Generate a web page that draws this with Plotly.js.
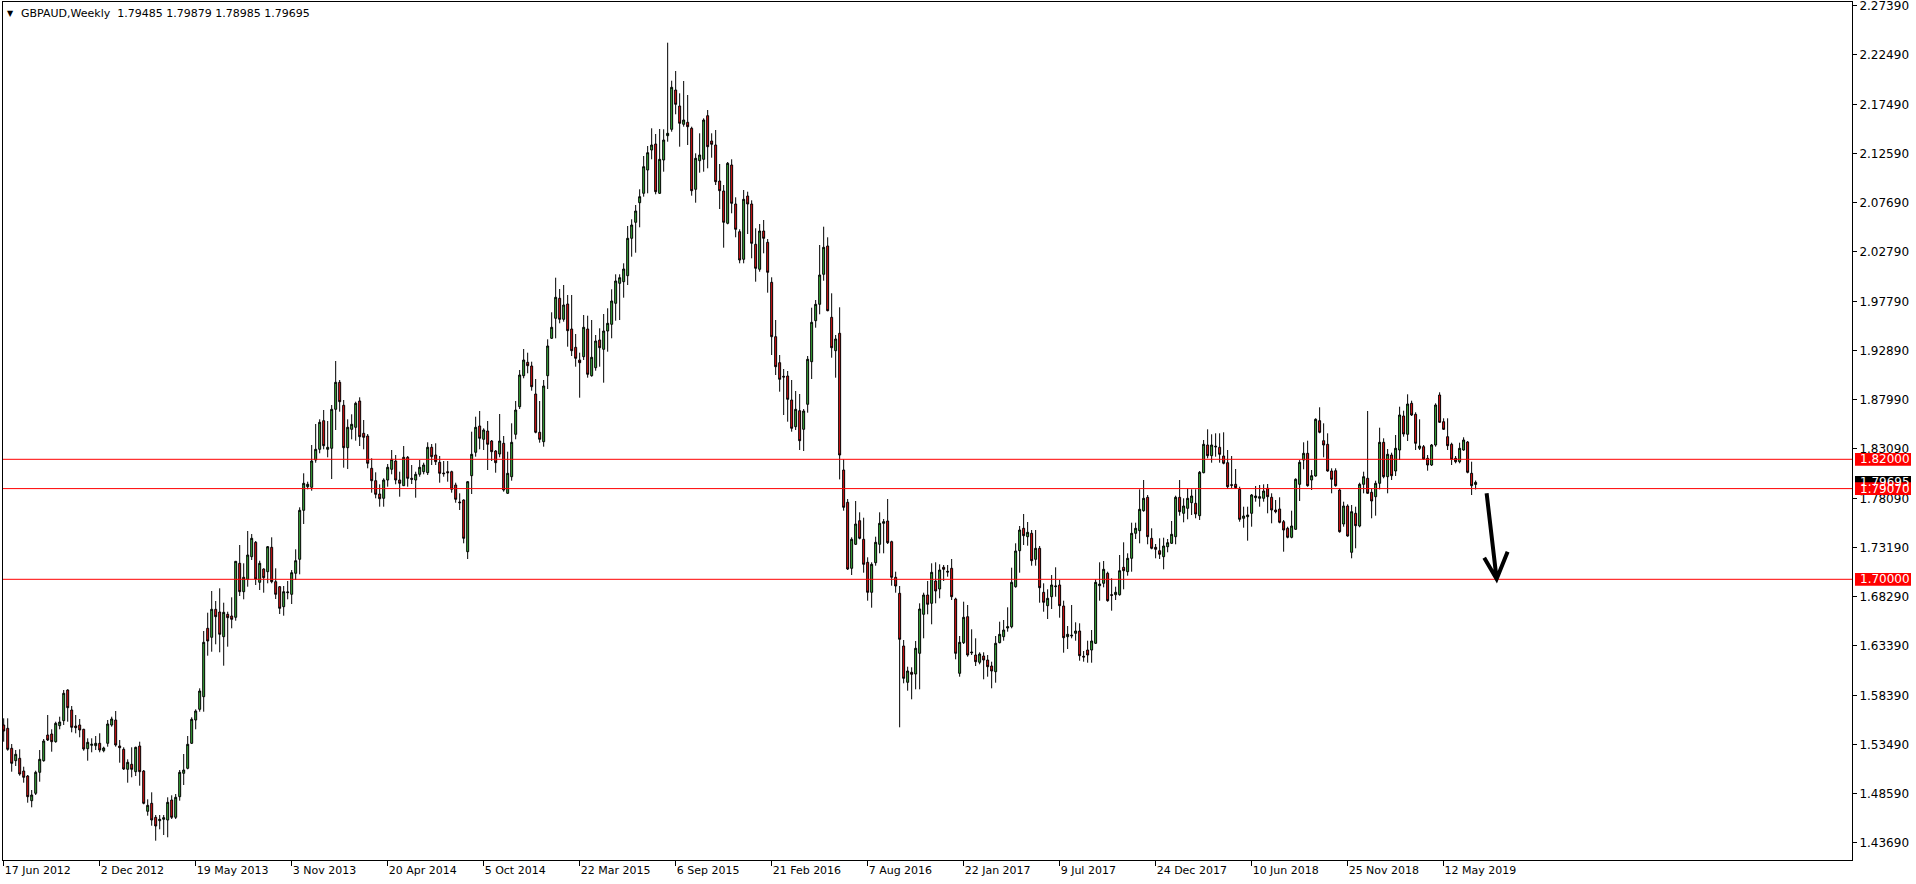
<!DOCTYPE html>
<html><head><meta charset="utf-8">
<script src="https://cdn.plot.ly/plotly-3.0.1.min.js"></script>
<style>html,body{margin:0;padding:0;background:#fff;overflow:hidden}#chart{width:1916px;height:884px}</style>
</head><body><div id="chart"></div>
<script>
// ---------- data (GBPAUD weekly candles) ----------
const symbolTitle = "GBPAUD,Weekly";
const lastBar = [1.79485, 1.79879, 1.78985, 1.79695];

const open = [
1.5543,1.5510,1.5310,1.5186,1.5210,1.5083,1.5033,1.4786,1.4860,1.5070,
1.5186,1.5443,1.5453,1.5376,1.5536,1.5586,1.5893,1.5693,1.5533,1.5543,
1.5500,1.5306,1.5340,1.5336,1.5360,1.5286,1.5360,1.5543,1.5593,1.5333,
1.5300,1.5100,1.5150,1.5076,1.5333,1.5083,1.4680,1.4760,1.4620,1.4586,
1.4600,1.4593,1.4793,1.4620,1.4826,1.5060,1.5110,1.5360,1.5593,1.5700,
1.5826,1.6510,1.6420,1.6700,1.6673,1.6426,1.6650,1.6633,1.6620,1.7160,
1.6876,1.7000,1.7226,1.7370,1.6970,1.7103,1.7076,1.7320,1.6976,1.6926,
1.6726,1.6866,1.6850,1.7060,1.7200,1.7690,1.7926,1.7920,1.8193,1.8300,
1.8586,1.8300,1.8310,1.8700,1.8970,1.8740,1.8316,1.8500,1.8520,1.8783,
1.8460,1.8433,1.8110,1.7986,1.7853,1.7810,1.7993,1.8100,1.8183,1.7993,
1.7936,1.8220,1.8010,1.7993,1.8050,1.8076,1.8066,1.8320,1.8243,1.8170,
1.8063,1.8076,1.8076,1.7943,1.7773,1.7793,1.7276,1.8036,1.8270,1.8533,
1.8400,1.8483,1.8383,1.8283,1.8253,1.8360,1.7860,1.8026,1.8450,1.8726,
1.9036,1.9170,1.9133,1.8853,1.8470,1.8376,1.9036,1.9410,1.9610,1.9810,
1.9600,1.9753,1.9503,1.9320,1.9193,1.9226,1.9503,1.9036,1.9116,1.9393,
1.9300,1.9483,1.9550,1.9760,1.9960,1.9976,2.0036,2.0410,2.0570,2.0766,
2.0860,2.1093,2.1293,2.1353,2.0860,2.1193,2.1436,2.1500,2.1893,2.1733,
2.1550,2.1570,2.1510,2.0900,2.1186,2.1200,2.1636,2.1383,2.1343,2.0983,
2.0883,2.0560,2.1143,2.0753,2.0476,2.0200,2.0833,2.0753,2.0350,2.0100,
2.0483,2.0370,1.9970,1.9426,1.9166,1.9030,1.9033,1.8793,1.8526,1.8686,
1.8500,1.8750,1.9176,1.9586,1.9750,2.0050,2.0333,1.9620,1.9286,1.9460,
1.8093,1.7770,1.7110,1.7350,1.7586,1.7400,1.7170,1.6870,1.7166,1.7350,
1.7560,1.7583,1.7376,1.7020,1.6860,1.6333,1.5970,1.6070,1.6053,1.6260,
1.6650,1.6843,1.6760,1.6983,1.6903,1.7120,1.7080,1.7110,1.6803,1.6060,
1.6366,1.6626,1.6273,1.6243,1.6170,1.6233,1.6193,1.6133,1.6076,1.6366,
1.6426,1.6513,1.6526,1.6926,1.7286,1.7510,1.7426,1.7460,1.7200,1.7310,
1.6870,1.6736,1.6826,1.6926,1.6943,1.6733,1.6426,1.6433,1.6460,1.6483,
1.6230,1.6293,1.6293,1.6360,1.6936,1.6960,1.7060,1.6846,1.6846,1.6846,
1.7120,1.7076,1.7210,1.7460,1.7486,1.7686,1.7820,1.7410,1.7320,1.7286,
1.7226,1.7326,1.7360,1.7426,1.7820,1.7660,1.7710,1.7766,1.7760,1.7636,
1.8066,1.8343,1.8236,1.8323,1.8320,1.8233,1.8166,1.7946,1.7950,1.7900,
1.7610,1.7626,1.7660,1.7816,1.7810,1.7810,1.7910,1.7820,1.7693,1.7703,
1.7576,1.7510,1.7420,1.7500,1.7950,1.8193,1.8260,1.7993,1.8033,1.8586,
1.8386,1.8350,1.8083,1.8086,1.7893,1.7553,1.7733,1.7270,1.7660,1.7533,
1.7950,1.8010,1.7870,1.7826,1.7960,1.8370,1.8026,1.8243,1.8083,1.8293,
1.8633,1.8450,1.8760,1.8650,1.8310,1.8326,1.8210,1.8143,1.8343,1.8843,
1.8576,1.8426,1.8350,1.8210,1.8176,1.8293,1.8373,1.8060,1.79485];

const high = [
1.5610,1.5610,1.5353,1.5293,1.5300,1.5126,1.5043,1.4893,1.5086,1.5293,
1.5403,1.5643,1.5500,1.5576,1.5626,1.5893,1.5900,1.5733,1.5643,1.5603,
1.5505,1.5410,1.5410,1.5433,1.5460,1.5326,1.5593,1.5626,1.5683,1.5393,
1.5320,1.5200,1.5320,1.5326,1.5376,1.5093,1.4800,1.4870,1.4643,1.4643,
1.4643,1.4820,1.4840,1.4853,1.5093,1.5253,1.5433,1.5620,1.5700,1.5910,
1.6483,1.6666,1.6883,1.6783,1.6910,1.6766,1.6676,1.6820,1.7183,1.7343,
1.7160,1.7483,1.7453,1.7383,1.7186,1.7110,1.7333,1.7420,1.7110,1.6933,
1.6933,1.6983,1.7093,1.7300,1.7720,1.8060,1.7976,1.8343,1.8553,1.8600,
1.8693,1.8583,1.8743,1.9183,1.8993,1.8793,1.8600,1.8650,1.8776,1.8820,
1.8593,1.8453,1.8210,1.8070,1.7950,1.8010,1.8153,1.8293,1.8243,1.8076,
1.8333,1.8233,1.8143,1.8076,1.8193,1.8166,1.8370,1.8353,1.8360,1.8233,
1.8183,1.8183,1.8086,1.7966,1.7860,1.7800,1.7983,1.8476,1.8626,1.8683,
1.8510,1.8583,1.8393,1.8293,1.8653,1.8433,1.8276,1.8560,1.8783,1.9093,
1.9303,1.9266,1.9176,1.9003,1.8783,1.8993,1.9400,1.9670,2.0016,1.9903,
1.9943,1.9843,1.9843,1.9453,1.9266,1.9643,1.9636,1.9593,1.9443,1.9510,
1.9653,1.9710,1.9900,2.0050,2.0050,2.0160,2.0533,2.0600,2.0743,2.0900,
2.1233,2.1333,2.1510,2.1453,2.1503,2.1500,2.2366,2.1986,2.2083,2.1860,
2.1983,2.1843,2.1526,2.1260,2.1460,2.1610,2.1693,2.1460,2.1493,2.1153,
2.0943,2.1173,2.1200,2.0820,2.0500,2.0893,2.0876,2.0790,2.0510,2.0553,
2.0593,2.0403,2.0020,1.9593,1.9243,1.9103,1.9083,1.8993,1.8883,1.8853,
1.8703,1.9233,1.9716,1.9793,2.0343,2.0526,2.0420,1.9860,1.9443,1.9720,
1.8200,1.7803,1.7420,1.7783,1.7670,1.7616,1.7220,1.7170,1.7426,1.7670,
1.7603,1.7803,1.7386,1.7076,1.6933,1.6393,1.6126,1.6120,1.6383,1.6760,
1.6866,1.6983,1.7160,1.7170,1.7150,1.7143,1.7143,1.7203,1.6816,1.6433,
1.6776,1.6743,1.6500,1.6410,1.6270,1.6270,1.6243,1.6176,1.6433,1.6576,
1.6593,1.6720,1.7116,1.7360,1.7533,1.7653,1.7573,1.7493,1.7493,1.7333,
1.6960,1.6900,1.7043,1.7120,1.6993,1.6786,1.6533,1.6743,1.6570,1.6560,
1.6283,1.6386,1.6493,1.7000,1.7170,1.7183,1.7076,1.7010,1.6926,1.7243,
1.7370,1.7260,1.7566,1.7566,1.7900,1.7993,1.7843,1.7510,1.7353,1.7410,
1.7416,1.7403,1.7583,1.7836,1.7993,1.7810,1.7910,1.7900,1.7900,1.8083,
1.8393,1.8500,1.8450,1.8460,1.8460,1.8470,1.8293,1.8233,1.8103,1.7926,
1.7726,1.7726,1.7853,1.7933,1.7943,1.7950,1.7953,1.7860,1.7793,1.7820,
1.7593,1.7526,1.7686,1.8010,1.8193,1.8370,1.8386,1.8093,1.8610,1.8720,
1.8560,1.8460,1.8110,1.8110,1.7910,1.7776,1.7750,1.7743,1.7726,1.7966,
1.8076,1.8683,1.7910,1.7986,1.8516,1.8410,1.8303,1.8266,1.8443,1.8726,
1.8686,1.8850,1.8786,1.8670,1.8600,1.8343,1.8243,1.8353,1.8760,1.8870,
1.8610,1.8610,1.8366,1.8233,1.8366,1.8420,1.8383,1.8176,1.79879];

const low = [
1.5376,1.5286,1.5076,1.5133,1.5036,1.4966,1.4766,1.4720,1.4843,1.4976,
1.5176,1.5383,1.5276,1.5366,1.5500,1.5543,1.5576,1.5470,1.5460,1.5420,
1.5286,1.5186,1.5270,1.5293,1.5270,1.5270,1.5326,1.5526,1.5326,1.5166,
1.5093,1.4966,1.5020,1.5033,1.4936,1.4750,1.4636,1.4536,1.4386,1.4500,
1.4443,1.4420,1.4603,1.4603,1.4786,1.4943,1.5100,1.5353,1.5500,1.5676,
1.5676,1.6236,1.6276,1.6350,1.6270,1.6136,1.6326,1.6510,1.6586,1.6833,
1.6800,1.6926,1.7193,1.6943,1.6893,1.6866,1.6960,1.6960,1.6803,1.6653,
1.6636,1.6800,1.6753,1.6993,1.7050,1.7553,1.7900,1.7886,1.8166,1.8260,
1.8300,1.8220,1.8003,1.8493,1.8676,1.8116,1.8103,1.8400,1.8386,1.8333,
1.8300,1.8110,1.7866,1.7810,1.7726,1.7726,1.7926,1.8050,1.7950,1.7826,
1.7933,1.7926,1.7953,1.7816,1.8026,1.8050,1.8043,1.8143,1.8143,1.7966,
1.8026,1.7976,1.7866,1.7766,1.7693,1.7360,1.7203,1.7853,1.8226,1.8300,
1.8293,1.8093,1.8183,1.8066,1.8220,1.7876,1.7853,1.7986,1.8400,1.8703,
1.9010,1.9060,1.8886,1.8460,1.8366,1.8326,1.8903,1.9403,1.9410,1.9560,
1.9576,1.9326,1.9233,1.9126,1.8816,1.9193,1.9016,1.9026,1.9086,1.9126,
1.8966,1.9276,1.9410,1.9586,1.9593,1.9816,1.9943,2.0226,2.0266,2.0520,
2.0826,2.0860,2.1200,2.0850,2.0853,2.1076,2.1376,2.1476,2.1650,2.1326,
2.1526,2.1343,2.0836,2.0766,2.1066,2.1076,2.1110,2.1216,2.0943,2.0703,
2.0316,2.0550,2.0660,2.0420,2.0160,2.0160,2.0453,2.0210,1.9976,2.0076,
2.0260,1.9866,1.9243,1.9043,1.8876,1.8643,1.8576,1.8476,1.8493,1.8293,
1.8283,1.8666,1.9003,1.9516,1.9650,1.9986,1.9680,1.9216,1.9016,1.7999,
1.7686,1.7093,1.7043,1.7343,1.7400,1.7066,1.6786,1.6716,1.7136,1.7260,
1.7260,1.7353,1.6936,1.6866,1.5520,1.5960,1.5886,1.5800,1.5900,1.5900,
1.6410,1.6650,1.6550,1.6760,1.6810,1.6983,1.7026,1.6793,1.6200,1.6026,
1.6353,1.6226,1.6243,1.6133,1.6150,1.6000,1.6026,1.5910,1.5966,1.6360,
1.6386,1.6476,1.6510,1.6916,1.7066,1.7343,1.7336,1.7136,1.7136,1.6766,
1.6676,1.6603,1.6703,1.6826,1.6616,1.6266,1.6303,1.6410,1.6386,1.6186,
1.6176,1.6166,1.6166,1.6353,1.6786,1.6920,1.6776,1.6686,1.6793,1.6836,
1.6900,1.7036,1.7076,1.7403,1.7360,1.7676,1.7350,1.7300,1.7210,1.7203,
1.7100,1.7270,1.7353,1.7350,1.7636,1.7570,1.7600,1.7643,1.7610,1.7593,
1.8060,1.8210,1.8166,1.8226,1.8166,1.8150,1.7903,1.7910,1.7903,1.7576,
1.7516,1.7386,1.7526,1.7776,1.7726,1.7776,1.7660,1.7560,1.7660,1.7560,
1.7276,1.7410,1.7410,1.7495,1.7783,1.8100,1.7926,1.7893,1.8026,1.8460,
1.8220,1.8076,1.7860,1.7926,1.7466,1.7526,1.7426,1.7210,1.7310,1.7520,
1.7860,1.7855,1.7610,1.7636,1.7900,1.8010,1.7860,1.7993,1.8033,1.8193,
1.8426,1.8383,1.8633,1.8293,1.8293,1.8193,1.8086,1.8133,1.8326,1.8566,
1.8493,1.8293,1.8143,1.8160,1.8160,1.8286,1.8060,1.7843,1.78985];

const close = [
1.5483,1.5300,1.5160,1.5250,1.5053,1.5020,1.4826,1.4843,1.5070,1.5200,
1.5383,1.5393,1.5376,1.5560,1.5573,1.5860,1.5716,1.5520,1.5516,1.5493,
1.5303,1.5370,1.5350,1.5360,1.5293,1.5313,1.5553,1.5603,1.5343,1.5316,
1.5103,1.5170,1.5100,1.5320,1.5076,1.4760,1.4740,1.4593,1.4533,1.4600,
1.4616,1.4770,1.4620,1.4820,1.5070,1.5093,1.5350,1.5600,1.5683,1.5883,
1.6370,1.6383,1.6700,1.6626,1.6450,1.6670,1.6616,1.6600,1.7180,1.6876,
1.7020,1.7243,1.7410,1.7003,1.7160,1.7016,1.7326,1.6976,1.6850,1.6710,
1.6876,1.6873,1.7066,1.7186,1.7690,1.7960,1.7950,1.8183,1.8300,1.8570,
1.8336,1.8320,1.8700,1.8970,1.8776,1.8316,1.8520,1.8550,1.8760,1.8426,
1.8420,1.8160,1.7986,1.7850,1.7806,1.7993,1.8120,1.8200,1.7993,1.7960,
1.8220,1.8010,1.8000,1.8050,1.8120,1.8143,1.8320,1.8226,1.8176,1.8060,
1.8056,1.8066,1.7900,1.7800,1.7766,1.7410,1.7976,1.8250,1.8520,1.8410,
1.8493,1.8350,1.8276,1.8166,1.8383,1.7893,1.8060,1.8370,1.8693,1.9043,
1.9193,1.9136,1.8926,1.8470,1.8400,1.8933,1.9333,1.9520,1.9820,1.9600,
1.9743,1.9486,1.9286,1.9210,1.9166,1.9520,1.9050,1.9220,1.9383,1.9316,
1.9483,1.9560,1.9783,1.9983,2.0016,2.0103,2.0410,2.0543,2.0683,2.0826,
2.1126,2.1266,2.1343,2.0876,2.1200,2.1393,2.1460,2.1920,2.1750,2.1560,
2.1593,2.1526,2.0886,2.1210,2.1243,2.1593,2.1326,2.1350,2.0976,2.0886,
2.0570,2.1160,2.0760,2.0500,2.0193,2.0800,2.0753,2.0360,2.0110,2.0483,
2.0410,2.0070,1.9426,1.9126,1.9000,1.9023,1.8800,1.8510,1.8700,1.8386,
1.8683,1.9200,1.9570,1.9750,2.0043,2.0320,1.9686,1.9316,1.9403,1.8243,
1.7720,1.7103,1.7400,1.7553,1.7410,1.7150,1.6870,1.7150,1.7370,1.7560,
1.7576,1.7366,1.7020,1.6933,1.6400,1.6010,1.6083,1.6050,1.6310,1.6703,
1.6843,1.6750,1.7070,1.6883,1.7093,1.7100,1.7073,1.6826,1.6260,1.6370,
1.6620,1.6243,1.6266,1.6176,1.6253,1.6193,1.6126,1.6083,1.6360,1.6450,
1.6493,1.6526,1.6970,1.7283,1.7493,1.7436,1.7470,1.7186,1.7310,1.6916,
1.6770,1.6810,1.6943,1.6933,1.6736,1.6416,1.6450,1.6440,1.6483,1.6236,
1.6223,1.6243,1.6383,1.6970,1.6953,1.7100,1.6786,1.6840,1.6870,1.7086,
1.7086,1.7210,1.7460,1.7510,1.7700,1.7810,1.7426,1.7310,1.7300,1.7250,
1.7333,1.7366,1.7450,1.7820,1.7676,1.7733,1.7810,1.7833,1.7653,1.8070,
1.8350,1.8236,1.8343,1.8330,1.8250,1.8160,1.7926,1.7940,1.7916,1.7600,
1.7633,1.7643,1.7843,1.7833,1.7826,1.7883,1.7826,1.7693,1.7676,1.7570,
1.7493,1.7420,1.7533,1.8000,1.8170,1.8260,1.7936,1.8036,1.8600,1.8470,
1.8343,1.8083,1.8000,1.7936,1.7476,1.7733,1.7433,1.7676,1.7536,1.7950,
1.8026,1.7860,1.7783,1.7960,1.8370,1.8026,1.8250,1.8036,1.8310,1.8643,
1.8453,1.8753,1.8643,1.8360,1.8333,1.8203,1.8143,1.8343,1.8743,1.8570,
1.8500,1.8336,1.8200,1.8176,1.8310,1.8393,1.8070,1.7936,1.79695];

const dateTickLabels = ["17 Jun 2012","2 Dec 2012","19 May 2013","3 Nov 2013","20 Apr 2014",
  "5 Oct 2014","22 Mar 2015","6 Sep 2015","21 Feb 2016","7 Aug 2016","22 Jan 2017",
  "9 Jul 2017","24 Dec 2017","10 Jun 2018","25 Nov 2018","12 May 2019"];
const weeksPerDateTick = 24;

const priceTicks = [2.27390,2.22490,2.17490,2.12590,2.07690,2.02790,1.97790,1.92890,
  1.87990,1.83090,1.78090,1.73190,1.68290,1.63390,1.58390,1.53490,1.48590,1.43690];

const levels = [1.82000, 1.79070, 1.70000];
// arrow drawn on chart: [week index, price] points
const arrowShaft = [[370.75, 1.7860], [373.25, 1.7003]];
const arrowHead = [[370.15, 1.7216], [373.25, 1.7003], [376.0, 1.7276]];

// ---------- chart ----------
const W = 1916, H = 884;
const M = {l: 3, r: 64, t: 2, b: 24};
const plotW = W - M.l - M.r;
const idx = open.map((_, i) => i);
const FONT = "DejaVu Sans, Verdana, sans-serif";

const trace = {
  type: 'candlestick', x: idx, open: open, high: high, low: low, close: close,
  increasing: {line: {color: '#000000', width: 1}, fillcolor: '#3cb03c'},
  decreasing: {line: {color: '#000000', width: 1}, fillcolor: '#e31414'},
  whiskerwidth: 0, hoverinfo: 'skip', showlegend: false
};

const shapes = [];
const annotations = [];
levels.forEach(v => shapes.push({type: 'line', xref: 'paper', x0: 0, x1: 1, yref: 'y', y0: v, y1: v,
  line: {color: '#ff0000', width: 1}, layer: 'above'}));

function priceBox(v, color) {
  shapes.push({type: 'rect', xref: 'paper', x0: 1 + 3 / plotW, x1: 1 + 59 / plotW,
    yref: 'y', y0: v - 0.0064, y1: v + 0.0064, fillcolor: color, line: {width: 0}, layer: 'above'});
  annotations.push({xref: 'paper', x: 1, xanchor: 'left', xshift: 6, yref: 'y', y: v, yanchor: 'middle',
    text: v.toFixed(5), showarrow: false, font: {family: FONT, size: 12, color: '#ffffff'}});
}
priceBox(lastBar[3], '#000000');
levels.forEach(v => priceBox(v, '#ff0000'));

// arrow
const pathOf = pts => pts.map((p, k) => (k ? 'L ' : 'M ') + p[0] + ',' + p[1]).join(' ');
shapes.push({type: 'path', xref: 'x', yref: 'y', path: pathOf(arrowShaft) + ' ' + pathOf(arrowHead),
  line: {color: '#000000', width: 4}, layer: 'above'});

// header text
annotations.push({xref: 'paper', yref: 'paper', x: 0, y: 1, xanchor: 'left', yanchor: 'middle',
  xshift: 2, yshift: -11, text: '▼', showarrow: false, font: {family: FONT, size: 8, color: '#000'}});
annotations.push({xref: 'paper', yref: 'paper', x: 0, y: 1, xanchor: 'left', yanchor: 'middle',
  xshift: 16, yshift: -11, showarrow: false,
  text: symbolTitle + '  ' + lastBar.map(v => v.toFixed(5)).join(' '),
  font: {family: FONT, size: 11, color: '#000'}});

const layout = {
  width: W, height: H, margin: M,
  paper_bgcolor: '#ffffff', plot_bgcolor: '#ffffff',
  showlegend: false, boxgap: 0.3,
  font: {family: FONT, color: '#000'},
  xaxis: {
    type: 'linear', range: [-0.175, 462.1], fixedrange: true,
    showgrid: false, zeroline: false, showline: true, mirror: true, linecolor: '#000', linewidth: 1,
    ticks: 'outside', ticklen: 5, tickcolor: '#000', tickwidth: 1,
    tickvals: dateTickLabels.map((_, k) => k * weeksPerDateTick), ticktext: dateTickLabels,
    ticklabelposition: 'outside right', ticklabeloverflow: 'allow',
    tickfont: {family: FONT, size: 11, color: '#000'},
    rangeslider: {visible: false}
  },
  yaxis: {
    side: 'right', range: [1.4193, 2.2773], fixedrange: true,
    showgrid: false, zeroline: false, showline: true, mirror: true, linecolor: '#000', linewidth: 1,
    ticks: 'outside', ticklen: 4, tickcolor: '#000', tickwidth: 1,
    tickvals: priceTicks, ticktext: priceTicks.map(v => v.toFixed(5)),
    ticklabeloverflow: 'allow',
    tickfont: {family: FONT, size: 12, color: '#000'}
  },
  shapes: shapes, annotations: annotations
};

Plotly.newPlot('chart', [trace], layout, {displayModeBar: false, staticPlot: true});
</script></body></html>
